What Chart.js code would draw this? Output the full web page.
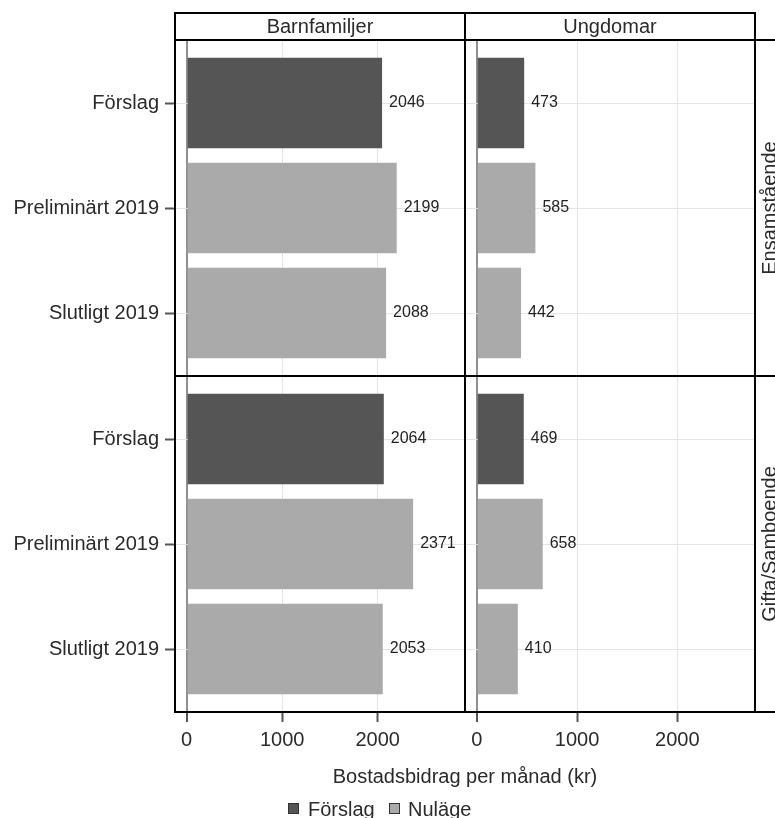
<!DOCTYPE html>
<html>
<head>
<meta charset="utf-8">
<script src="https://cdn.jsdelivr.net/npm/chart.js@4"></script>
<style>
  html, body { margin: 0; padding: 0; background: #fff; overflow: hidden; }
  body { width: 775px; height: 818px; position: relative; font-family: "Liberation Sans", Arial, sans-serif; color: #2a2a2a; }
  canvas { position: absolute; left: 0; top: 0; }
  .ln { position: absolute; background: #000; }
  .txt { position: absolute; font-size: 20px; white-space: nowrap; text-align: center; }
  .sq { position: absolute; width: 9px; height: 9px; border: 1px solid #333; }
</style>
</head>
<body>
<canvas id="p00" width="775" height="818"></canvas>
<canvas id="p01" width="775" height="818"></canvas>
<canvas id="p10" width="775" height="818"></canvas>
<canvas id="p11" width="775" height="818"></canvas>
<script>
// data
const categories = ["Förslag", "Preliminärt 2019", "Slutligt 2019"];
const columns = ["Barnfamiljer", "Ungdomar"];
const rows = ["Ensamstående", "Gifta/Samboende"];
const barnEnsam = [2046, 2199, 2088];
const ungEnsam = [473, 585, 442];
const barnGifta = [2064, 2371, 2053];
const ungGifta = [469, 658, 410];
const xTicks = [0, 1000, 2000];
const legendLabels = ["Förslag", "Nuläge"];
const axisTitle = "Bostadsbidrag per månad (kr)";

const DARK = "#555555";
const LIGHT = "#aaaaaa";
const GRID = "#e4e4e4";

// panel layout (px)
const W = 775, H = 818;
const colX = [175, 465, 755];
const rowY = [40, 376, 712];
const xRange = [[-122, 2914], [-117, 2775]];

Chart.defaults.font.family = '"Liberation Sans", Arial, sans-serif';
Chart.defaults.color = "#2a2a2a";

const valueLabels = {
  id: "valueLabels",
  afterDatasetsDraw(chart) {
    const ctx = chart.ctx;
    const ds = chart.data.datasets[0];
    ctx.save();
    ctx.font = '16px "Liberation Sans", Arial, sans-serif';
    ctx.fillStyle = "#222";
    ctx.textBaseline = "middle";
    chart.getDatasetMeta(0).data.forEach((bar, i) => {
      ctx.fillText(String(ds.data[i].x), bar.x + 7, bar.y);
    });
    ctx.restore();
  }
};

function panel(id, r, c, values) {
  const bottomAxis = r === 1;
  const leftAxis = c === 0;
  new Chart(document.getElementById(id), {
    type: "bar",
    data: {
      datasets: [{
        data: values.map((v, i) => ({ x: v, y: i })),
        backgroundColor: categories.map((_, i) => i === 0 ? DARK : LIGHT),
        borderWidth: 0,
        barPercentage: 0.86,
        categoryPercentage: 1
      }]
    },
    options: {
      indexAxis: "y",
      responsive: false,
      animation: false,
      events: [],
      layout: {
        padding: {
          left: leftAxis ? 0 : colX[1],
          right: W - colX[c + 1],
          top: rowY[r],
          bottom: H - rowY[r + 1] - (bottomAxis ? 60 : 0)
        }
      },
      plugins: { legend: { display: false }, tooltip: { enabled: false } },
      scales: {
        x: {
          type: "linear",
          min: xRange[c][0],
          max: xRange[c][1],
          afterBuildTicks: a => { a.ticks = xTicks.map(v => ({ value: v })); },
          afterFit: a => { a.height = bottomAxis ? 60 : 0; },
          border: { display: false },
          grid: {
            color: ctx => ctx.tick && ctx.tick.value === 0 ? "#8f8f8f" : GRID,
            lineWidth: ctx => ctx.tick && ctx.tick.value === 0 ? 2 : 1,
            drawTicks: bottomAxis,
            tickLength: 10,
            tickColor: "#555",
            tickWidth: 2
          },
          ticks: {
            display: bottomAxis,
            callback: v => String(v),
            font: { size: 20 },
            padding: 6,
            maxRotation: 0,
            autoSkip: false
          }
        },
        y: {
          type: "linear",
          reverse: true,
          offset: false,
          min: -0.6,
          max: 2.6,
          afterBuildTicks: a => { a.ticks = categories.map((_, i) => ({ value: i })); },
          afterFit: a => { a.width = leftAxis ? colX[0] : 0; },
          border: { display: false },
          grid: { offset: false, color: GRID, drawTicks: leftAxis, tickLength: 10, tickColor: "#555", tickWidth: 2 },
          ticks: {
            display: leftAxis,
            callback: v => categories[v],
            font: { size: 20 },
            padding: 6,
            autoSkip: false
          }
        }
      }
    },
    plugins: [valueLabels]
  });
}

panel("p00", 0, 0, barnEnsam);
panel("p01", 0, 1, ungEnsam);
panel("p10", 1, 0, barnGifta);
panel("p11", 1, 1, ungGifta);

// frame lines, strips, titles, legend
function el(cls, css, text) {
  const d = document.createElement("div");
  d.className = cls;
  Object.assign(d.style, css);
  if (text !== undefined) d.textContent = text;
  document.body.appendChild(d);
  return d;
}
function line(x, y, w, h) {
  el("ln", { left: x + "px", top: y + "px", width: w + "px", height: h + "px" });
}

const headTop = 13;
line(colX[0] - 1, headTop - 1, colX[2] - colX[0] + 2, 2);
[40, 376, 712].forEach(y => line(colX[0] - 1, y - 1, 800 - colX[0], 2));
colX.forEach(x => line(x - 1, headTop - 1, 2, rowY[2] - headTop + 2));

columns.forEach((name, c) => {
  el("txt", {
    left: colX[c] + "px", top: headTop + "px", width: (colX[c + 1] - colX[c]) + "px",
    height: (40 - headTop) + "px", lineHeight: (40 - headTop) + "px"
  }, name);
});

rows.forEach((name, r) => {
  const cy = (rowY[r] + rowY[r + 1]) / 2;
  el("txt", {
    left: (769 - 100) + "px", top: (cy - 12) + "px", width: "200px",
    height: "24px", lineHeight: "24px", transform: "rotate(-90deg)"
  }, name);
});

el("txt", { left: "265px", top: "764px", width: "400px", lineHeight: "24px" }, axisTitle);

[[288, DARK, 308], [389, LIGHT, 408]].forEach(([sx, fill, tx], i) => {
  el("sq", { left: sx + "px", top: "803px", background: fill });
  el("txt", { left: tx + "px", top: "797px", lineHeight: "24px", textAlign: "left" }, legendLabels[i]);
});
</script>
</body>
</html>
